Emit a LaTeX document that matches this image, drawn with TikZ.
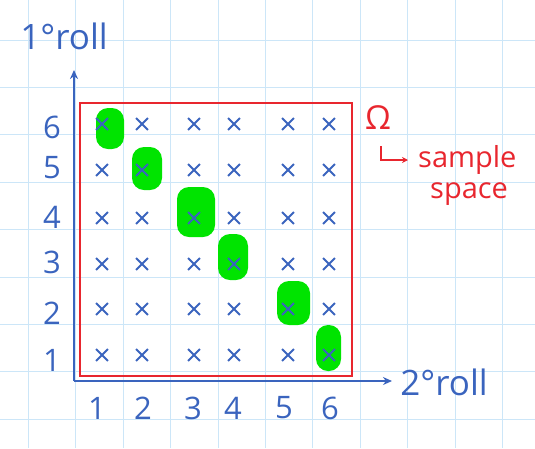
\documentclass[tikz,border=0pt]{standalone}
\usepackage{fontspec}
\setmainfont{Open Sans}
\usetikzlibrary{arrows.meta,shapes.misc}

\definecolor{pen}{RGB}{58,100,190}
\definecolor{redpen}{RGB}{232,38,46}
\definecolor{marker}{RGB}{0,228,0}
\definecolor{paper}{RGB}{204,230,248}

\begin{document}
\begin{tikzpicture}[x=1pt, y=-1pt,
  label/.style={inner sep=0pt, text=pen, font=\fontsize{31}{33}\selectfont},
  axislabel/.style={inner sep=0pt, text=pen, font=\fontsize{35}{37}\selectfont},
  redlabel/.style={inner sep=0pt, text=redpen, font=\fontsize{29}{31}\selectfont},
  outcome/.style={cross out, draw=pen, line width=1.8pt, minimum size=10pt, inner sep=0pt},
  blob/.style={fill=marker, rounded corners=12pt}]

  \useasboundingbox (0,0) rectangle (535,448);
  % squared paper
  \foreach \k in {0,...,10} \draw[paper, line width=0.9pt] (28.5+47.4*\k,0) -- (28.5+47.4*\k,448);
  \foreach \k in {0,...,8} \draw[paper, line width=0.9pt] (0,40+47.4*\k) -- (535,40+47.4*\k);

  % highlighted doubles
  \fill[blob] (96,108) rectangle (124,149);
  \fill[blob] (132,147) rectangle (162,190);
  \fill[blob] (177,187) rectangle (215,237);
  \fill[blob] (218,234) rectangle (248,280);
  \fill[blob] (277,281) rectangle (310,325);
  \fill[blob] (316,325) rectangle (341,371);

  % sample space
  \node[draw=redpen, line width=1.2pt, minimum width=272pt, minimum height=273pt, inner sep=0pt] (omegabox) at (216,239.5) {};

  \coordinate (origin) at (74,381);
  \coordinate (ytip) at (74,70);
  \coordinate (xtip) at (392,381);
  \draw[pen, line width=1.8pt, -{Stealth[length=9pt,width=8pt]}] (origin) -- (ytip);
  \draw[pen, line width=1.8pt, -{Stealth[length=9pt,width=8pt]}] (origin) -- (xtip);

  \node[axislabel] (firstroll) at (64,36) {1°roll};
  \node[axislabel] (secondroll) at (444,382) {2°roll};

  \foreach \n/\y in {6/127, 5/168, 4/217, 3/262, 2/313, 1/360}
    \node[label] (row\n) at (52,\y) {\n};
  \foreach \n/\x in {1/97, 2/143, 3/193, 4/233, 5/284, 6/330}
    \node[label] (col\n) at (\x,408) {\n};

  % all 36 outcomes
  \foreach \r/\y in {6/124, 5/170, 4/218, 3/264, 2/309, 1/355}
    \foreach \c/\x in {1/102, 2/142, 3/194, 4/234, 5/288, 6/329}
      \node[outcome] (p\c\r) at (\x,\y) {};

  \node[redlabel, font=\fontsize{33}{35}\selectfont] (omega) at (378,118) {Ω};
  \node[redlabel, anchor=west] (sample) at (418,160) {sample};
  \node[redlabel, anchor=west] (space) at (430,194) {space};
  \coordinate (hook) at (381,146);
  \draw[redpen, line width=1.5pt, -{Stealth[length=6pt,width=6pt]}, shorten >=10pt] (hook) |- (sample.west);
\end{tikzpicture}
\end{document}
